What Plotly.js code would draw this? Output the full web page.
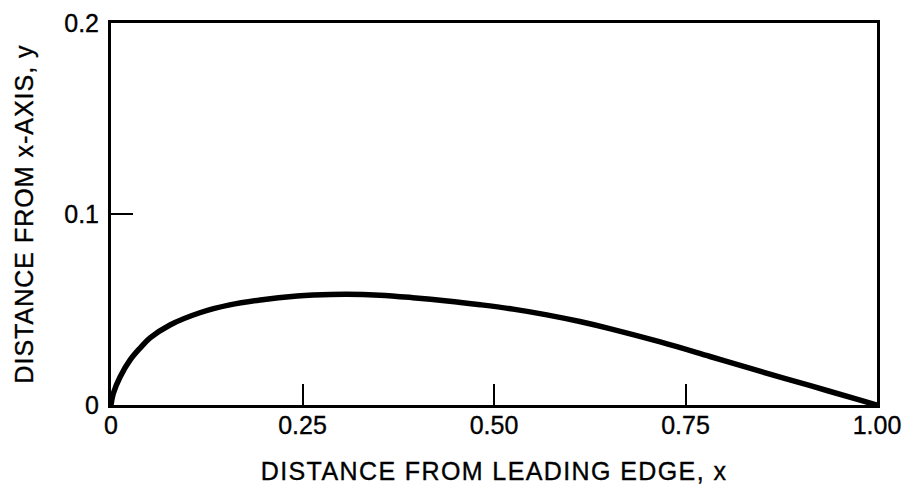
<!DOCTYPE html>
<html>
<head>
<meta charset="utf-8">
<script src="https://cdn.plot.ly/plotly-3.0.1.min.js"></script>
<style>
html,body{margin:0;padding:0;background:#fff;}
#chart{width:906px;height:491px;}
#chart .xtitle{letter-spacing:1.4px;}
#chart .ytitle{letter-spacing:1.0px;}
#chart text{stroke:#000;stroke-width:0.35px;}
</style>
</head>
<body>
<div id="chart"></div>
<script>
// Camber-line shape
const xPos = [0, 0.003, 0.012, 0.025, 0.038, 0.051, 0.077, 0.116, 0.155, 0.195, 0.243, 0.264, 0.308, 0.351, 0.394, 0.439, 0.482, 0.525, 0.569, 0.612, 0.651, 0.717, 0.782, 0.847, 0.913, 0.978, 1.0];
const yPos = [0, 0.006, 0.0148, 0.0236, 0.0298, 0.0351, 0.0419, 0.0483, 0.0524, 0.055, 0.0571, 0.0576, 0.058, 0.0575, 0.0562, 0.0545, 0.0525, 0.0502, 0.0472, 0.0437, 0.0400, 0.0330, 0.0254, 0.0177, 0.0101, 0.0025, 0];

const xTickVals = [0, 0.25, 0.5, 0.75, 1.0];
const xTickText = ["0", "0.25", "0.50", "0.75", "1.00"];
const yTickVals = [0, 0.1, 0.2];
const yTickText = ["0", "0.1", "0.2"];

const xTitle = "DISTANCE FROM LEADING EDGE, x";
const yTitle = "DISTANCE FROM x-AXIS, y";

const font = "'Liberation Sans', Arial, Helvetica, sans-serif";

Plotly.newPlot('chart', [{
  x: xPos, y: yPos, type: 'scatter', mode: 'lines',
  line: {color: '#000', width: 5.5, shape: 'spline', smoothing: 1},
  hoverinfo: 'skip'
}], {
  width: 906, height: 491,
  margin: {l: 111, r: 29, t: 23, b: 86},
  paper_bgcolor: '#fff', plot_bgcolor: '#fff',
  showlegend: false,
  font: {family: font, color: '#000', size: 25},
  xaxis: {
    range: [0, 1], tickvals: xTickVals, ticktext: xTickText,
    ticks: 'inside', ticklen: 21, tickwidth: 2, tickcolor: '#000',
    showline: true, linecolor: '#000', linewidth: 3, mirror: true,
    showgrid: false, zeroline: false, ticklabelstandoff: -4,
    tickfont: {family: font, size: 25, color: '#000'},
    title: {text: xTitle, font: {family: font, size: 25, color: '#000'}, standoff: 25}
  },
  yaxis: {
    range: [0, 0.2], tickvals: yTickVals, ticktext: yTickText,
    ticks: 'inside', ticklen: 22, tickwidth: 2, tickcolor: '#000',
    showline: true, linecolor: '#000', linewidth: 3, mirror: true,
    showgrid: false, zeroline: false, ticklabelstandoff: 4,
    tickfont: {family: font, size: 25, color: '#000'},
    title: {text: yTitle, font: {family: font, size: 25, color: '#000'}, standoff: 24}
  }
}, {displayModeBar: false, staticPlot: true});
</script>
</body>
</html>
